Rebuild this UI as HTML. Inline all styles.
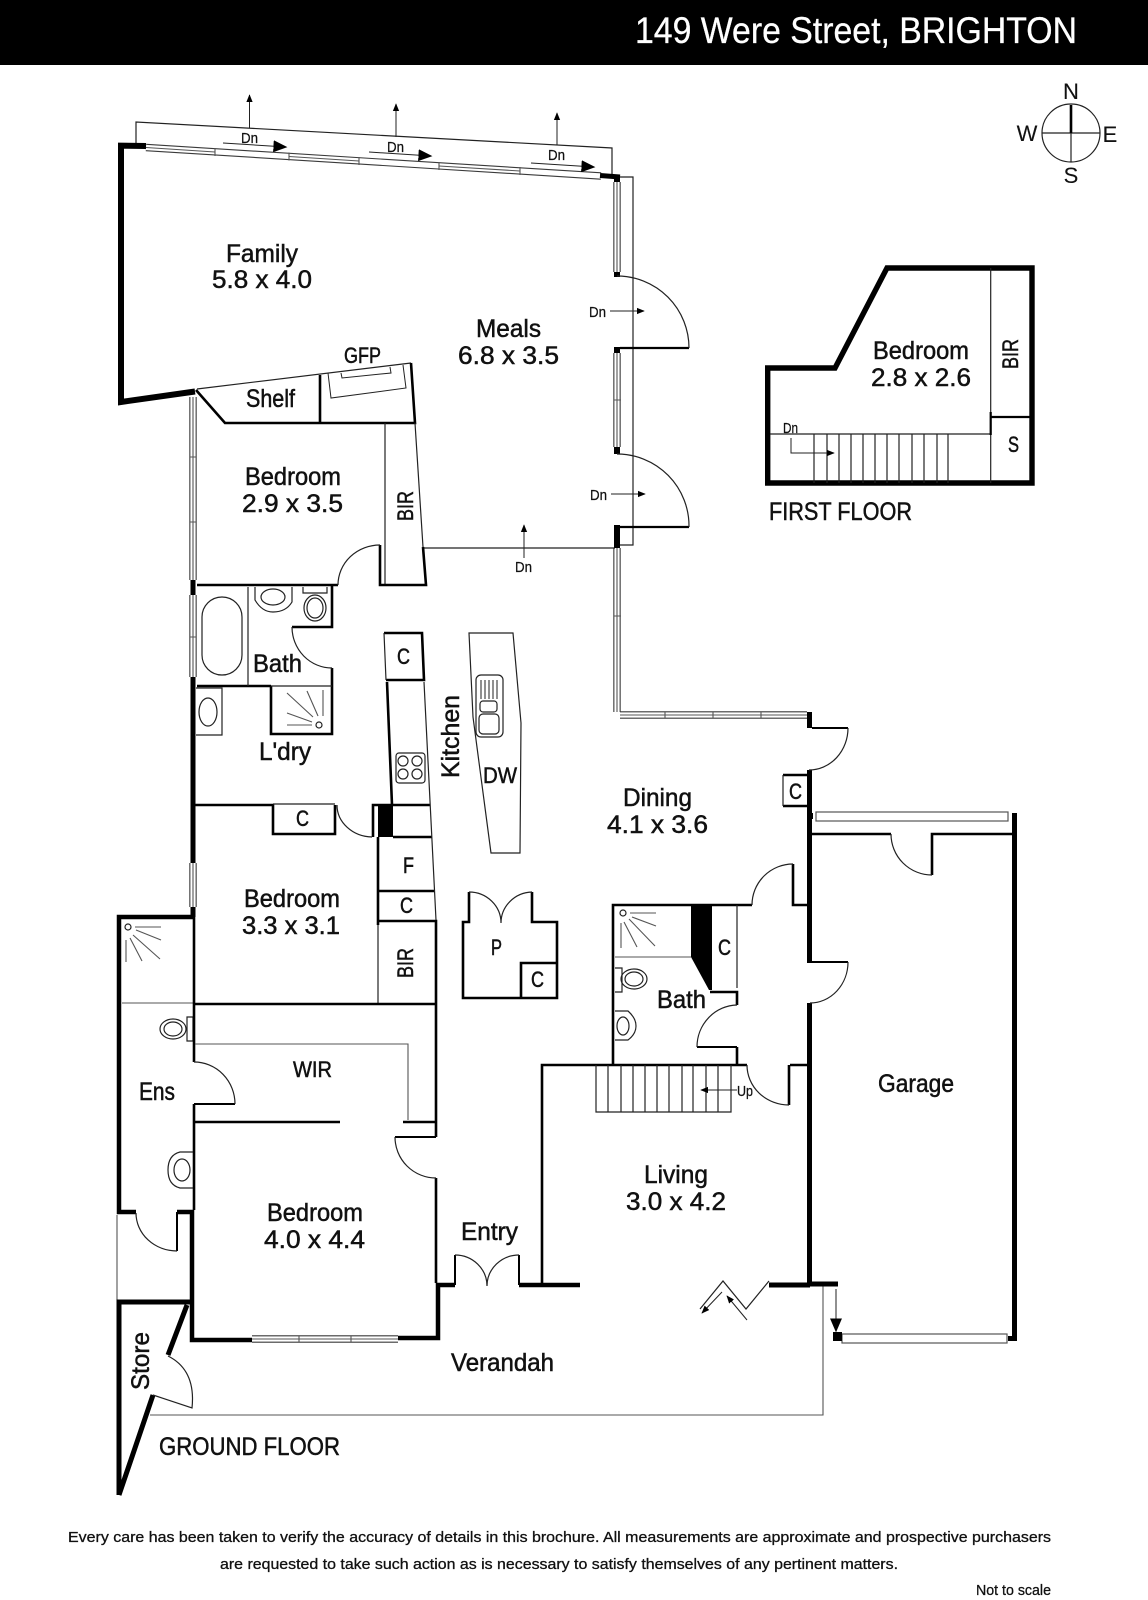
<!DOCTYPE html>
<html><head><meta charset="utf-8"><style>
html,body{margin:0;padding:0;background:#fff}
svg{display:block}
text{font-family:"Liberation Sans",sans-serif;fill:#111;stroke:#111;stroke-width:.5}
.l{font-size:25px}.m{font-size:22px}.d{font-size:15px;stroke-width:.25}.f{font-size:15px;stroke-width:.3}
.k,.t,.h,.a,.g{fill:none;stroke-linecap:butt;stroke-linejoin:miter}
.k{stroke:#000;stroke-width:5}
.h{stroke:#000;stroke-width:2.6}
.t{stroke:#222;stroke-width:1.2}
.g{stroke:#555;stroke-width:1.1}
.a{stroke:#222;stroke-width:1}
</style></head><body>
<svg xmlns="http://www.w3.org/2000/svg" width="1148" height="1600" viewBox="0 0 1148 1600">
<defs><marker id="ar" viewBox="0 0 10 10" refX="9" refY="5" markerWidth="8" markerHeight="8" markerUnits="userSpaceOnUse" orient="auto"><path d="M0 1L10 5L0 9Z" fill="#000"/></marker>
<marker id="ab" viewBox="0 0 10 10" refX="9" refY="5" markerWidth="14" markerHeight="12" markerUnits="userSpaceOnUse" orient="auto" preserveAspectRatio="none"><path d="M0 0L10 5L0 10Z" fill="#000"/></marker>
<path id="win" d="M146 147.5L601 176M617 182V272M617 353V447M617 548V712M620 715H807M193 397V580M193 595V677M193 863V907M252 1339H398"/>
</defs>
<rect width="1148" height="65" fill="#000"/>
<text x="635" y="43" textLength="442" lengthAdjust="spacingAndGlyphs" style="font-size:37px;fill:#fff;stroke:#fff;stroke-width:.3">149 Were Street, BRIGHTON</text>

<!-- windows -->
<use href="#win" fill="none" stroke="#3a3a3a" stroke-width="7.4"/>
<use href="#win" fill="none" stroke="#fff" stroke-width="5.2"/>
<path class="g" d="M146 147.5L215 152M289 156.5L359 161M439 166L520 171M617 182V272M617 353V447M617 548V712M620 715H807M193 397V580M193 595V677M193 863V907M252 1339H398"/>
<path class="g" d="M215 148v8M289 152.5v8M359 157v8M439 162v8M520 167v8M665 712v6M713 712v6M761 712v6M190 457h6M190 522h6M190 637h6M299 1336v6M351 1336v6M614 400h7M614 616h7"/>

<!-- deck thin -->
<path class="t" d="M136 143V122L612 148V175M620 177H633V545H620"/>
<path class="t" d="M424 548H615"/>
<!-- Family walls -->
<path class="k" style="stroke-width:6" d="M146 146L121 145.7V402L195 391.5"/>
<path class="k" style="stroke-width:5" d="M600 175.5L620 177"/>
<rect x="614" y="175" width="6" height="7" fill="#000"/>
<path class="t" d="M197 389L411 363"/>
<path class="h" d="M411 363L415 423H225L196 390M320 375V422"/>
<path class="a" d="M328 373L331 398L406 388L403 365M341 373L342 378L391 373L390 367"/>
<!-- right doors -->
<path class="k" style="stroke-width:6" d="M617 525V548M617 347V353M617 447V454M617 272V277" />
<path class="h" style="stroke-width:2.2" d="M620 348H689M620 527H689"/>
<path class="t" d="M617 276A72 72 0 0 1 689 348M617 454A72 72 0 0 1 689 527"/>
<!-- Dn arrows -->
<path class="a" d="M249.5 128V95" marker-end="url(#ar)"/><path class="a" d="M396 137V104" marker-end="url(#ar)"/><path class="a" d="M557 145V113" marker-end="url(#ar)"/>
<path class="a" d="M223 143L286 147" marker-end="url(#ab)"/><path class="a" d="M369 152L431 156" marker-end="url(#ab)"/><path class="a" d="M531 163L594 167" marker-end="url(#ab)"/>
<path class="a" d="M610 311H644" marker-end="url(#ar)"/><path class="a" d="M611 494H645" marker-end="url(#ar)"/><path class="a" d="M524 558V525" marker-end="url(#ar)"/>

<!-- Bedroom 1 / BIR -->
<path class="t" d="M385 423V584M415 423L423 547"/>
<path class="h" d="M423 547L426 585H380V545M197 585H338"/>
<path class="t" d="M380 545A42 40 0 0 0 338 585"/>
<path class="k" d="M193 580V595M193 677V863M193 907V917"/>
<path class="k" style="stroke-width:4.5" d="M195 917H119V1212H136M177 1212H192V1340H252M398 1338H438V1285H455M519 1285H580"/>
<!-- Bath -->
<path class="h" d="M332 585V627H292M332 668V734H271V686M197 686H271"/>
<path class="t" d="M292 627A40 41 0 0 0 332 668M271 686H332M248 587V686"/>
<rect class="t" x="202" y="597" width="40" height="78" rx="20"/>
<path class="t" d="M255 587V600Q262 612 273 612Q286 612 292 602V587"/>
<ellipse class="t" cx="273" cy="597" rx="12" ry="8"/>
<path class="t" d="M303 587V593H327V587"/>
<ellipse class="t" cx="315" cy="608" rx="11" ry="13"/><ellipse class="t" cx="315" cy="608" rx="8" ry="10"/>
<path class="t" d="M196 688H222V735H196"/><ellipse class="t" cx="208" cy="712" rx="9" ry="14"/>
<circle class="t" cx="319" cy="725" r="3"/>
<path class="g" d="M287 693L313 717M307 691L318 716M323 690V716M287 713L312 722M287 725H312"/>
<!-- Laundry -->
<path class="h" d="M195 805H273V834H335V805M373 837V805H392M378 837V925"/>
<path class="t" d="M273 804H335M337 805A36 32 0 0 0 372 837M378 925V1003"/>
<rect x="378" y="805" width="15" height="32" fill="#000"/>
<!-- Kitchen -->
<path class="h" d="M384 633H422L424 680H386M387 682L392 805H430M393 837H432M379 891H434M379 921H436V1137M195 1004H436"/>
<path class="t" d="M384 633L386 680M424 682L436 920"/>
<rect class="t" x="396" y="753" width="29" height="30" rx="3"/>
<circle class="t" cx="403" cy="761" r="5"/><circle class="t" cx="417" cy="761" r="5"/><circle class="t" cx="403" cy="774" r="5"/><circle class="t" cx="417" cy="774" r="5"/>
<path class="t" d="M469 633H513L521 723L520 853H491L473 717Z"/>
<rect class="t" x="476" y="675" width="27" height="62" rx="5"/>
<rect class="t" x="480" y="701" width="17" height="11" rx="3"/><rect class="t" x="479" y="714" width="20" height="20" rx="4"/>
<path class="a" d="M481 680V699M485 680V699M489 680V699M493 680V699M497 680V699"/>
<!-- Pantry -->
<path class="h" d="M469 892V922H463V998H557V922H532V892M521 998V963H557"/>
<path class="t" d="M469 892A32 31 0 0 1 501 923A32 31 0 0 1 532 892"/>
<!-- Ens -->
<circle class="t" cx="128" cy="927" r="3"/>
<path class="g" d="M135 927H161M136 930L161 940M133 935L160 959M130 938L142 961M126 940V962M122 1003H194"/>
<path class="t" d="M187 1017H193V1041H187Z"/><ellipse class="t" cx="173" cy="1029" rx="13" ry="10"/><ellipse class="t" cx="173" cy="1029" rx="9" ry="7"/>
<path class="h" d="M194 917V1062M194 1104V1210"/>
<path class="h" style="stroke-width:2" d="M194 1104H235M177 1212V1251"/>
<path class="t" d="M194 1062A41 42 0 0 1 235 1104M136 1213A41 38 0 0 0 177 1251"/>
<path class="g" d="M195 1044H408V1120M117 1215V1300"/>
<path class="h" d="M195 1122H340M403 1122H436M436 1178V1283"/>
<path class="h" style="stroke-width:2" d="M395 1137H436"/>
<path class="t" d="M395 1137A41 41 0 0 0 436 1178"/>
<path class="t" d="M193 1152H180Q168 1155 168 1170Q168 1185 180 1188H193"/><ellipse class="t" cx="182" cy="1170" rx="8" ry="11"/>
<!-- Entry -->
<path class="h" d="M455 1285V1255M519 1285V1255" style="stroke-width:2"/>
<path class="t" d="M455 1255A32 31 0 0 1 487 1286A32 31 0 0 1 519 1255"/>
<!-- Store -->
<path class="k" d="M119 1495V1302H190M187 1305L168 1355M153 1395L119 1495"/>
<path class="t" d="M168 1356Q196 1370 192 1408L153 1395"/>
<path class="g" d="M150 1415H823V1285"/>
<!-- Living / stairs -->
<path class="h" d="M542 1285V1065H747M790 1065H807M789 1065V1105"/>
<path class="t" d="M747 1065A42 40 0 0 0 789 1105"/>
<path class="t" d="M596 1065V1112H731V1065M608 1065V1112M621 1065V1112M633 1065V1112M645 1065V1112M657 1065V1112M669 1065V1112M682 1065V1112M693 1065V1112M706 1065V1112M718 1065V1112"/>
<path class="a" d="M737 1090H701" marker-end="url(#ar)"/>
<!-- Bath 2 -->
<path class="h" d="M613 1065V905H752M710 992H737V1005M737 1047V1065M793 864V905H807"/>
<path class="h" style="stroke-width:2" d="M697 1047H737"/>
<path d="M691 905H712V990H709L691 957Z" fill="#000"/>
<path class="t" d="M737 905V988M737 1005A41 42 0 0 0 697 1047M752 905A41 41 0 0 1 793 864"/>
<circle class="t" cx="623" cy="913" r="3"/>
<path class="g" d="M630 913H656M632 917L656 926M629 919L655 946M624 922L637 947M621 923V948M615 957H691"/>
<path class="t" d="M615 968H622V992H615"/><ellipse class="t" cx="634" cy="979" rx="13" ry="10"/><ellipse class="t" cx="634" cy="979" rx="9" ry="7"/>
<path class="t" d="M615 1011H628Q636 1018 636 1026Q636 1034 628 1040H615"/><ellipse class="t" cx="623" cy="1026" rx="6" ry="9"/>
<!-- East wall -->
<path class="k" d="M809.5 712V728M809.5 770V962M809.5 1003V1285M769 1285H810M809 1284H838"/>
<path class="h" style="stroke-width:2" d="M812 728H848M807 962H848"/>
<path class="t" d="M848 728A39 42 0 0 1 809 770M848 962A38 41 0 0 1 810 1003"/>
<path class="h" d="M807 775H783M783 806H807"/><path class="t" d="M783 775V806"/>
<!-- Garage -->
<path class="h" d="M812 834H891M932 875V834H1013"/>
<path class="t" d="M891 834A41 41 0 0 0 932 875"/>
<rect x="816" y="812" width="192" height="9" fill="#fff" stroke="#555" stroke-width="1.2"/>
<rect x="842" y="1334" width="165" height="9" fill="#fff" stroke="#555" stroke-width="1.2"/>
<rect x="808" y="813" width="5" height="6" fill="#000"/>
<path class="k" d="M1014.5 813V1341M1008 1338.5H1017"/>
<rect x="833" y="1332" width="9" height="9" fill="#000"/>
<path class="a" d="M836 1289V1331" marker-end="url(#ab)"/>
<path class="t" d="M769 1281L746 1309L723 1281L700 1309"/>
<path class="a" d="M722 1292L702 1313" marker-end="url(#ar)"/>
<path class="a" d="M747 1320L727 1296" marker-end="url(#ar)"/>

<!-- First floor -->
<path class="k" style="stroke-width:5.4" d="M767.7 483V368H835L887 268H1032V483Z"/>
<path class="t" d="M990.7 268V483M770 434H990M814 434V483M827 434V483M839 434V483M851 434V483M863 434V483M875 434V483M887 434V483M899 434V483M912 434V483M924 434V483M937 434V483M948 434V483"/>
<path class="h" style="stroke-width:2.2" d="M990.7 412V435M990 417H1030"/>
<path class="a" d="M791 438V453H834" marker-end="url(#ar)"/>
<!-- Compass -->
<circle class="t" cx="1071" cy="133" r="29"/>
<path class="t" d="M1042 133H1100M1071 133V162"/>
<path class="h" d="M1071 105V133"/>

<!-- labels -->
<text class="l" x="226" y="262" textLength="72" lengthAdjust="spacingAndGlyphs">Family</text>
<text class="l" x="212" y="288" textLength="100" lengthAdjust="spacingAndGlyphs">5.8 x 4.0</text>
<text class="l" x="476" y="337" textLength="65" lengthAdjust="spacingAndGlyphs">Meals</text>
<text class="l" x="458" y="364" textLength="101" lengthAdjust="spacingAndGlyphs">6.8 x 3.5</text>
<text class="m" x="344" y="363" textLength="37" lengthAdjust="spacingAndGlyphs">GFP</text>
<text class="l" x="246" y="407" textLength="49" lengthAdjust="spacingAndGlyphs">Shelf</text>
<text class="l" x="245" y="485" textLength="96" lengthAdjust="spacingAndGlyphs">Bedroom</text>
<text class="l" x="242" y="512" textLength="101" lengthAdjust="spacingAndGlyphs">2.9 x 3.5</text>
<text class="m" transform="translate(413 521) rotate(-90)" textLength="30" lengthAdjust="spacingAndGlyphs">BIR</text>
<text class="l" x="253" y="672" textLength="49" lengthAdjust="spacingAndGlyphs">Bath</text>
<text class="l" x="259" y="760" textLength="52" lengthAdjust="spacingAndGlyphs">L'dry</text>
<text class="m" x="397" y="664" textLength="13" lengthAdjust="spacingAndGlyphs">C</text>
<text class="l" transform="translate(459 778) rotate(-90)" textLength="83" lengthAdjust="spacingAndGlyphs">Kitchen</text>
<text class="m" x="483" y="783" textLength="34" lengthAdjust="spacingAndGlyphs">DW</text>
<text class="l" x="623" y="806" textLength="69" lengthAdjust="spacingAndGlyphs">Dining</text>
<text class="l" x="607" y="833" textLength="101" lengthAdjust="spacingAndGlyphs">4.1 x 3.6</text>
<text class="m" x="789" y="799" textLength="13" lengthAdjust="spacingAndGlyphs">C</text>
<text class="m" x="296" y="826" textLength="13" lengthAdjust="spacingAndGlyphs">C</text>
<text class="m" x="403" y="873" textLength="11" lengthAdjust="spacingAndGlyphs">F</text>
<text class="m" x="400" y="913" textLength="13" lengthAdjust="spacingAndGlyphs">C</text>
<text class="m" transform="translate(413 978) rotate(-90)" textLength="30" lengthAdjust="spacingAndGlyphs">BIR</text>
<text class="l" x="244" y="907" textLength="96" lengthAdjust="spacingAndGlyphs">Bedroom</text>
<text class="l" x="242" y="934" textLength="98" lengthAdjust="spacingAndGlyphs">3.3 x 3.1</text>
<text class="m" x="491" y="955" textLength="11" lengthAdjust="spacingAndGlyphs">P</text>
<text class="m" x="531" y="987" textLength="13" lengthAdjust="spacingAndGlyphs">C</text>
<text class="m" x="718" y="955" textLength="13" lengthAdjust="spacingAndGlyphs">C</text>
<text class="l" x="657" y="1008" textLength="49" lengthAdjust="spacingAndGlyphs">Bath</text>
<text class="m" x="293" y="1077" textLength="39" lengthAdjust="spacingAndGlyphs">WIR</text>
<text class="l" x="139" y="1100" textLength="36" lengthAdjust="spacingAndGlyphs">Ens</text>
<text class="l" x="878" y="1092" textLength="76" lengthAdjust="spacingAndGlyphs">Garage</text>
<text class="d" x="737" y="1096" textLength="16" lengthAdjust="spacingAndGlyphs">Up</text>
<text class="l" x="644" y="1183" textLength="64" lengthAdjust="spacingAndGlyphs">Living</text>
<text class="l" x="626" y="1210" textLength="100" lengthAdjust="spacingAndGlyphs">3.0 x 4.2</text>
<text class="l" x="267" y="1221" textLength="96" lengthAdjust="spacingAndGlyphs">Bedroom</text>
<text class="l" x="264" y="1248" textLength="101" lengthAdjust="spacingAndGlyphs">4.0 x 4.4</text>
<text class="l" x="461" y="1240" textLength="57" lengthAdjust="spacingAndGlyphs">Entry</text>
<text class="l" x="451" y="1371" textLength="103" lengthAdjust="spacingAndGlyphs">Verandah</text>
<text class="l" transform="translate(149 1390) rotate(-90)" textLength="58" lengthAdjust="spacingAndGlyphs">Store</text>
<text class="l" x="159" y="1455" textLength="181" lengthAdjust="spacingAndGlyphs">GROUND FLOOR</text>
<text class="l" x="873" y="359" textLength="96" lengthAdjust="spacingAndGlyphs">Bedroom</text>
<text class="l" x="871" y="386" textLength="100" lengthAdjust="spacingAndGlyphs">2.8 x 2.6</text>
<text class="m" transform="translate(1018 369) rotate(-90)" textLength="30" lengthAdjust="spacingAndGlyphs">BIR</text>
<text class="m" x="1008" y="452" textLength="11" lengthAdjust="spacingAndGlyphs">S</text>
<text class="l" x="769" y="520" textLength="143" lengthAdjust="spacingAndGlyphs">FIRST FLOOR</text>
<text class="d" x="783" y="433" textLength="15" lengthAdjust="spacingAndGlyphs">Dn</text>
<text class="d" x="241" y="143" textLength="17" lengthAdjust="spacingAndGlyphs">Dn</text>
<text class="d" x="387" y="152" textLength="17" lengthAdjust="spacingAndGlyphs">Dn</text>
<text class="d" x="548" y="160" textLength="17" lengthAdjust="spacingAndGlyphs">Dn</text>
<text class="d" x="589" y="317" textLength="17" lengthAdjust="spacingAndGlyphs">Dn</text>
<text class="d" x="590" y="500" textLength="17" lengthAdjust="spacingAndGlyphs">Dn</text>
<text class="d" x="515" y="572" textLength="17" lengthAdjust="spacingAndGlyphs">Dn</text>
<text x="1071" y="99" text-anchor="middle" style="font-size:22px;stroke-width:.1">N</text>
<text x="1027" y="141" text-anchor="middle" style="font-size:22px;stroke-width:.1">W</text>
<text x="1110" y="142" text-anchor="middle" style="font-size:22px;stroke-width:.1">E</text>
<text x="1071" y="183" text-anchor="middle" style="font-size:22px;stroke-width:.1">S</text>
<text class="f" x="68" y="1542" textLength="983" lengthAdjust="spacingAndGlyphs">Every care has been taken to verify the accuracy of details in this brochure.  All measurements are approximate and prospective purchasers</text>
<text class="f" x="220" y="1569" textLength="678" lengthAdjust="spacingAndGlyphs">are requested to take such action as is necessary to satisfy themselves of any pertinent matters.</text>
<text class="f" x="976" y="1595" textLength="75" lengthAdjust="spacingAndGlyphs">Not to scale</text>
</svg>
</body></html>
